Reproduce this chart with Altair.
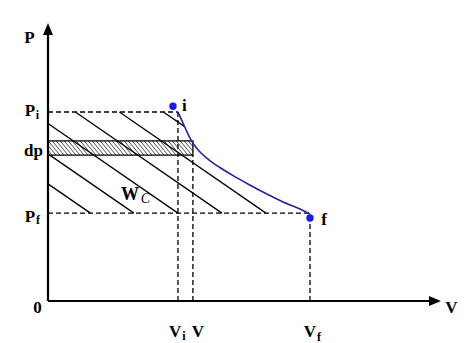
import altair as alt
import numpy as np
import pandas as pd

# ---------------- data (arbitrary units) ----------------
V_I = 4.96      # V_i
V_MID = 5.53    # V
V_F = 10.0      # V_f
P_I = 10.0      # P_i
P_F = 4.65      # P_f
DP_LO = 7.72    # lower edge of the dp strip
DP_HI = 8.47    # upper edge of the dp strip

# process curve i -> f
CURVE_V = [4.96, 5.12, 5.27, 5.42, 5.61, 5.84, 6.15, 6.53, 7.02, 7.63, 8.28, 8.97, 9.62, 10.0]
CURVE_P = [10.0, 9.52, 9.05, 8.62, 8.20, 7.83, 7.46, 7.09, 6.67, 6.19, 5.71, 5.24, 4.87, 4.60]

# state points
POINT_NAME = ["i", "f"]
POINT_V = [4.77, 10.0]
POINT_P = [10.30, 4.39]

# hatch lines of the W_C area: where each meets the P_f level, and their slope
HATCH_V0 = [1.62, 3.28, 4.96, 6.64, 8.32, 10.0]
HATCH_SLOPE = 0.956

# axis extents (arrow heads)
ARROW_V = 14.77
ARROW_P = 14.39

# ---------------- layout / style ----------------
W, H = 469, 343
ORIGIN_X, ORIGIN_Y = 48, 301          # pixel position of the origin
X_PX, Y_PX = 26.2, 18.9               # pixels per unit
V_MIN = -ORIGIN_X / X_PX
V_MAX = V_MIN + W / X_PX
P_MIN = -(H - ORIGIN_Y) / Y_PX
P_MAX = P_MIN + H / Y_PX
FONT = "Liberation Serif"
CURVE_COLOR = "#24249c"
DOT_COLOR = "#1a1aee"

XS = alt.Scale(domain=[V_MIN, V_MAX], nice=False, zero=False)
YS = alt.Scale(domain=[P_MIN, P_MAX], nice=False, zero=False)


def X(field=None, datum=None):
    if datum is not None:
        return alt.X(datum=datum, type="quantitative", scale=XS, axis=None)
    return alt.X(field, type="quantitative", scale=XS, axis=None)


def Y(field=None, datum=None):
    if datum is not None:
        return alt.Y(datum=datum, type="quantitative", scale=YS, axis=None)
    return alt.Y(field, type="quantitative", scale=YS, axis=None)


ONE = pd.DataFrame({"k": [0]})

# dashed guide lines
dashed = pd.DataFrame({
    "v": [0, 0, V_I, V_MID, V_F],
    "p": [P_I, P_F, 0, 0, 0],
    "v2": [V_I, V_F, V_I, V_MID, V_F],
    "p2": [P_I, P_F, P_I, DP_LO, P_F],
})
dashed_layer = alt.Chart(dashed).mark_rule(
    color="black", strokeWidth=1.3, strokeDash=[5, 3]
).encode(x=X("v"), y=Y("p"), x2="v2", y2="p2")

# hatch lines clipped to the W_C region
vs = np.linspace(0, V_F, 6001)
cp = np.interp(vs, CURVE_V, CURVE_P, left=P_I, right=-1e9)
rows = []
for v0 in HATCH_V0:
    ps = P_F + HATCH_SLOPE * (v0 - vs)
    inside = (ps >= P_F - 1e-9) & (ps <= P_I + 1e-9) & (ps <= cp + 1e-9)
    idx = np.flatnonzero(inside)
    if len(idx) == 0:
        continue
    br = np.flatnonzero(np.diff(idx) > 1)
    starts = np.r_[idx[0], idx[br + 1]]
    ends = np.r_[idx[br], idx[-1]]
    for s, e in zip(starts, ends):
        if e > s:
            rows.append({"v": vs[s], "p": ps[s], "v2": vs[e], "p2": ps[e]})
hatch = pd.DataFrame(rows)
hatch_layer = alt.Chart(hatch).mark_rule(color="black", strokeWidth=1.3).encode(
    x=X("v"), y=Y("p"), x2="v2", y2="p2")

# dense hatching inside the dp strip
STEP_PX = 4.0
STEEP = 1.2
h_v = (DP_HI - DP_LO) * Y_PX / X_PX / STEEP
rows = []
for xs in np.arange(-h_v, V_MID, STEP_PX / X_PX):
    a_v, a_p, b_v, b_p = xs, DP_HI, xs + h_v, DP_LO
    if a_v < 0:
        a_p = DP_HI - (0 - xs) / h_v * (DP_HI - DP_LO)
        a_v = 0
    if b_v > V_MID:
        b_p = DP_HI - (V_MID - xs) / h_v * (DP_HI - DP_LO)
        b_v = V_MID
    if b_v > a_v:
        rows.append({"v": a_v, "p": a_p, "v2": b_v, "p2": b_p})
strip_hatch = pd.DataFrame(rows)
strip_hatch_layer = alt.Chart(strip_hatch).mark_rule(color="#222222", strokeWidth=0.8).encode(
    x=X("v"), y=Y("p"), x2="v2", y2="p2")

strip_layer = alt.Chart(ONE).mark_rect(fill=None, stroke="black", strokeWidth=1.3).encode(
    x=X(datum=0), x2=alt.X2(datum=V_MID), y=Y(datum=DP_LO), y2=alt.Y2(datum=DP_HI))

# process curve
curve = pd.DataFrame({"v": CURVE_V, "p": CURVE_P, "o": range(len(CURVE_V))})
curve_layer = alt.Chart(curve).mark_line(
    color=CURVE_COLOR, strokeWidth=1.6, interpolate="monotone"
).encode(x=X("v"), y=Y("p"), order="o:O")

# axes
axes = pd.DataFrame({"v": [0, 0], "p": [0, 0], "v2": [ARROW_V, 0], "p2": [0, ARROW_P]})
axes_layer = alt.Chart(axes).mark_rule(color="black", strokeWidth=2.2).encode(
    x=X("v"), y=Y("p"), x2="v2", y2="p2")
arrow_up = alt.Chart(ONE).mark_point(
    shape="M0,-1L0.83,1L-0.83,1Z", filled=True, color="black", opacity=1, size=144
).encode(x=X(datum=0), y=Y(datum=ARROW_P))
arrow_right = alt.Chart(ONE).mark_point(
    shape="M1,0L-1,-0.83L-1,0.83Z", filled=True, color="black", opacity=1, size=144
).encode(x=X(datum=ARROW_V), y=Y(datum=0))

# state points
pts = pd.DataFrame({"name": POINT_NAME, "v": POINT_V, "p": POINT_P})
dots_layer = alt.Chart(pts).mark_point(
    filled=True, color=DOT_COLOR, opacity=1, size=55, shape="circle"
).encode(x=X("v"), y=Y("p"))


def label(text, v, p, dx, dy, size=17, weight="bold", style="normal"):
    return alt.Chart(ONE).mark_text(
        text=text, dx=dx, dy=dy, fontSize=size, fontWeight=weight, fontStyle=style,
        font=FONT, align="center", baseline="alphabetic", color="black"
    ).encode(x=X(datum=v), y=Y(datum=p))


labels = [
    label("P", 0, ARROW_P, -18.5, 14),
    label("P", 0, P_I, -18, 4), label("i", 0, P_I, -10.5, 7, size=12),
    label("dp", 0, DP_LO, -14.5, 1),
    label("P", 0, P_F, -18, 9), label("f", 0, P_F, -10, 11, size=12),
    label("0", 0, 0, -10.5, 12),
    label("V", ARROW_V, 0, 16.5, 12),
    label("V", V_I, 0, -2.7, 36), label("i", V_I, 0, 6, 39, size=12),
    label("V", V_MID, 0, 5, 36),
    label("V", V_F, 0, 0, 36), label("f", V_F, 0, 9, 40, size=12),
    label("i", POINT_V[0], POINT_P[0], 11.5, 5),
    label("f", POINT_V[1], POINT_P[1], 14, 7),
    label("W", 0, P_F, 82, -13, size=18),
    label("C", 0, P_F, 97.5, -10, size=14, weight="normal", style="italic"),
]

chart = alt.layer(
    dashed_layer, hatch_layer, strip_hatch_layer, strip_layer, curve_layer,
    axes_layer, arrow_up, arrow_right, dots_layer, *labels
).properties(
    width=W, height=H, padding=0, background="white",
    autosize=alt.AutoSizeParams(type="none")
).configure_view(stroke=None)

chart.save("out.html", embed_options={"renderer": "svg", "actions": False})
